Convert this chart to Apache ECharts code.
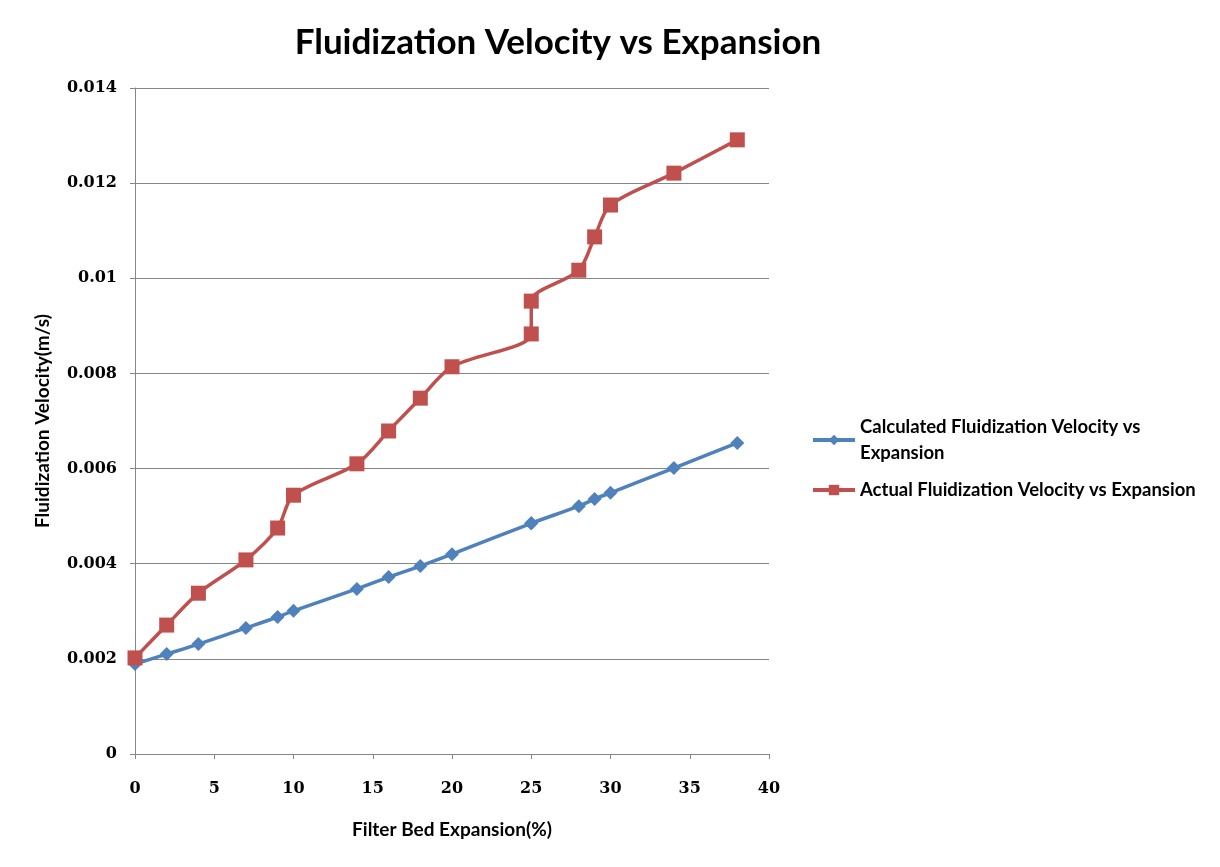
<!DOCTYPE html>
<html>
<head>
<meta charset="utf-8">
<script src="https://cdn.jsdelivr.net/npm/echarts@6/dist/echarts.min.js"></script>
<style>
html, body { margin: 0; padding: 0; background: #fff; }
#chart { width: 1220px; height: 867px; }
</style>
</head>
<body>
<div id="chart"></div>
<script>
// 数据：膨胀率(%) 与 流化速度(m/s)
var seriesNames = ['Calculated Fluidization Velocity vs Expansion', 'Actual Fluidization Velocity vs Expansion'];
var expansion = [0, 2, 4, 7, 9, 10, 14, 16, 18, 20, 25, 25, 28, 29, 30, 34, 38];
var calculated = [0.00189, 0.00210, 0.00231, 0.00265, 0.00288, 0.00301, 0.00347, 0.00372, 0.00395, 0.00420, 0.00485, 0.00485, 0.00521, 0.00536, 0.00549, 0.00601, 0.00654];
var actual = [0.00202, 0.00271, 0.00338, 0.00408, 0.00475, 0.00544, 0.00610, 0.00679, 0.00748, 0.00814, 0.00883, 0.00952, 0.01017, 0.01087, 0.01154, 0.01221, 0.01291];

function pairs(xs, ys) {
    var out = [];
    for (var i = 0; i < xs.length; i++) out.push([xs[i], ys[i]]);
    return out;
}

var font = 'Lato, "Open Sans", sans-serif';
var tickFont = '"DejaVu Serif", serif';
var myChart = echarts.init(document.getElementById('chart'));

var option = {
    animation: false,
    title: {
        text: 'Fluidization Velocity vs Expansion',
        left: 553,
        textAlign: 'center',
        top: 20,
        textStyle: { fontFamily: font, fontWeight: 'bold', fontSize: 35, color: '#000' }
    },
    legend: {
        orient: 'vertical',
        left: 806,
        top: 409,
        itemWidth: 42,
        itemHeight: 13,
        itemGap: 11,
        data: seriesNames,
        lineStyle: { width: 4 },
        textStyle: {
            fontFamily: font, fontWeight: 'bold', fontSize: 18.5, color: '#000',
            width: 360, overflow: 'break', lineHeight: 26
        }
    },
    grid: { left: 135, right: 451, top: 88, bottom: 113, containLabel: false },
    xAxis: {
        type: 'value',
        min: 0, max: 40, interval: 5,
        name: 'Filter Bed Expansion(%)',
        nameLocation: 'middle',
        nameGap: 66,
        nameTextStyle: { fontFamily: font, fontWeight: 'bold', fontSize: 19, color: '#000' },
        axisLine: { lineStyle: { color: '#868686', width: 1 } },
        axisTick: { show: true, length: 5, lineStyle: { color: '#868686' } },
        axisLabel: { fontFamily: tickFont, fontWeight: 'bold', fontSize: 16, color: '#000', margin: 27 },
        splitLine: { show: false }
    },
    yAxis: {
        type: 'value',
        min: 0, max: 0.014, interval: 0.002,
        name: 'Fluidization Velocity(m/s)',
        nameLocation: 'middle',
        nameGap: 83,
        nameTextStyle: { fontFamily: font, fontWeight: 'bold', fontSize: 19, color: '#000' },
        axisLine: { show: true, lineStyle: { color: '#868686', width: 1 } },
        axisTick: { show: true, length: 5, lineStyle: { color: '#868686' } },
        axisLabel: { fontFamily: tickFont, fontWeight: 'bold', fontSize: 16, color: '#000', margin: 18 },
        splitLine: { show: true, lineStyle: { color: '#868686', width: 1 } }
    },
    series: [{
        name: seriesNames[0],
        type: 'line',
        smooth: 0.3,
        symbol: 'diamond',
        symbolSize: 14,
        data: pairs(expansion, calculated),
        itemStyle: { color: '#4F81BD' },
        lineStyle: { color: '#4F81BD', width: 3.5 }
    }, {
        name: seriesNames[1],
        type: 'line',
        smooth: 0.3,
        symbol: 'rect',
        symbolSize: 15,
        data: pairs(expansion, actual),
        itemStyle: { color: '#C0504D' },
        lineStyle: { color: '#C0504D', width: 3.5 }
    }]
};

myChart.setOption(option);
</script>
</body>
</html>
